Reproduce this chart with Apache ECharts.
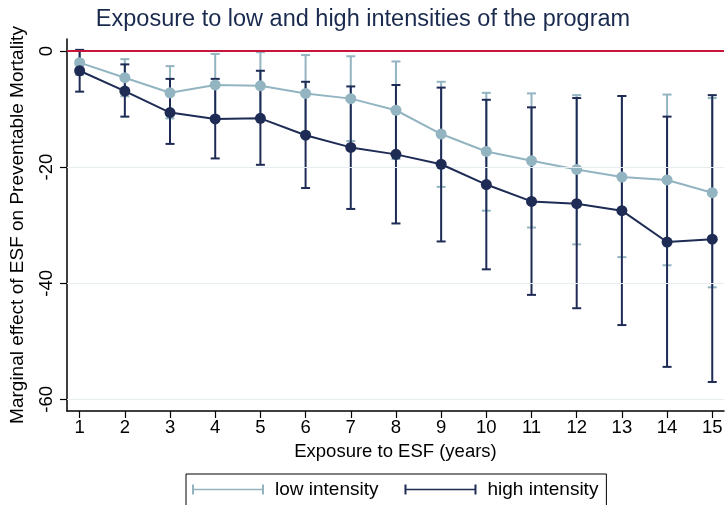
<!DOCTYPE html>
<html>
<head>
<meta charset="utf-8">
<script src="https://cdn.jsdelivr.net/npm/echarts@6/dist/echarts.min.js"></script>
<style>
html,body{margin:0;padding:0;background:#fff;}
#chart{width:726px;height:505px;}
</style>
</head>
<body>
<div id="chart"></div>
<script>
// ---- data ----
const years = [1,2,3,4,5,6,7,8,9,10,11,12,13,14,15];
const lowMean  = [-2.0,-4.6,-7.2,-5.85,-6.0,-7.3,-8.2,-10.2,-14.3,-17.3,-18.9,-20.4,-21.7,-22.2,-24.4];
const lowUpper = [0.1,-1.4,-2.6,-0.5,-0.2,-0.7,-0.9,-1.8,-5.3,-7.2,-7.3,-7.6,-7.75,-7.5,-8.1];
const lowLower = [-4.1,-7.8,-11.6,-11.2,-11.8,-13.9,-15.5,-18.6,-23.4,-27.5,-30.4,-33.3,-35.5,-36.9,-40.7];
const highMean  = [-3.4,-6.9,-10.6,-11.7,-11.6,-14.5,-16.6,-17.8,-19.5,-23.0,-25.9,-26.3,-27.5,-32.9,-32.4];
const highUpper = [0.2,-2.3,-4.8,-4.8,-3.4,-5.3,-6.1,-5.85,-6.3,-8.4,-9.7,-8.1,-7.75,-11.3,-7.6];
const highLower = [-7.0,-11.3,-16.0,-18.5,-19.6,-23.6,-27.2,-29.7,-32.8,-37.6,-42.0,-44.3,-47.2,-54.4,-57.0];
const yTicks = [0,-20,-40,-60];
const gridValues = [-20,-40,-60];
const seriesNames = ['low intensity','high intensity'];
const titleText = 'Exposure to low and high intensities of the program';
const xTitle = 'Exposure to ESF (years)';
const yTitle = 'Marginal effect of ESF on Preventable Mortality';

const LIGHT = '#93b4c1';
const DARK = '#1e2b55';
const FONT = 'Liberation Sans, Arial, sans-serif';

function errRender(color){
  return function(params, api){
    const x = api.value(0), lo = api.value(1), hi = api.value(2);
    const a = api.coord([x, lo]), b = api.coord([x, hi]);
    const w = 4.5;
    const st = {stroke: color, lineWidth: 2};
    return {type:'group', children:[
      {type:'line', shape:{x1:a[0],y1:a[1],x2:b[0],y2:b[1]}, style:st},
      {type:'line', shape:{x1:a[0]-w,y1:a[1],x2:a[0]+w,y2:a[1]}, style:st},
      {type:'line', shape:{x1:b[0]-w,y1:b[1],x2:b[0]+w,y2:b[1]}, style:st}
    ]};
  };
}

const capIcon = 'path://M0,0L2,0L2,10L0,10Z M0,4.2L72,4.2L72,5.8L0,5.8Z M70,0L72,0L72,10L70,10Z';

const chart = echarts.init(document.getElementById('chart'), null, {renderer:'canvas'});
chart.setOption({
  animation:false,
  backgroundColor:'#ffffff',
  title:{
    text:titleText, left:'center', top:8, padding:0,
    textStyle:{fontFamily:FONT, fontSize:23.5, fontWeight:'normal', color:'#1a2a4f'}
  },
  legend:{
    left:186, top:474, width:419,
    padding:[6,8,10,6],
    borderColor:'#000', borderWidth:1,
    itemWidth:72, itemHeight:10, itemGap:26,
    textStyle:{fontFamily:FONT, fontSize:19, color:'#000', padding:[0,0,0,6]},
    data:[
      {name:seriesNames[0], icon:capIcon, itemStyle:{color:LIGHT, borderWidth:0}},
      {name:seriesNames[1], icon:capIcon, itemStyle:{color:DARK, borderWidth:0}}
    ]
  },
  grid:{left:67, right:2, top:39, bottom:94},
  xAxis:{
    type:'value', min:0.72, max:15.26,
    name:xTitle, nameLocation:'middle', nameGap:31,
    nameTextStyle:{fontFamily:FONT, fontSize:18.5, color:'#000'},
    axisLine:{onZero:false, lineStyle:{color:'#000', width:1.5}},
    axisTick:{show:true, length:7, lineStyle:{color:'#000', width:1.2}, customValues:years},
    axisLabel:{fontFamily:FONT, fontSize:18.5, color:'#000', margin:7, customValues:years},
    splitLine:{show:false}
  },
  yAxis:{
    type:'value', min:-62, max:2.07,
    name:yTitle, nameLocation:'middle', nameGap:40, nameRotate:90,
    nameTextStyle:{fontFamily:FONT, fontSize:19, color:'#000'},
    axisLine:{show:true, onZero:false, lineStyle:{color:'#000', width:1.5}},
    axisTick:{show:true, length:7, lineStyle:{color:'#000', width:1.2}, customValues:yTicks},
    axisLabel:{fontFamily:FONT, fontSize:18.5, color:'#000', rotate:90, margin:11, customValues:yTicks},
    splitLine:{show:false}
  },
  series:[
    {
      name:seriesNames[0], type:'custom', z:2,
      renderItem:errRender(LIGHT), itemStyle:{color:LIGHT},
      encode:{x:0, y:[1,2]},
      data:years.map((y,i)=>[y, lowLower[i], lowUpper[i]]),
      markLine:{
        silent:true, symbol:'none', label:{show:false},
        data:[
          ...gridValues.map(v=>({yAxis:v, lineStyle:{color:'#e6edf0', width:1.2, type:'solid'}})),
          {yAxis:0, lineStyle:{color:'#c8153b', width:2, type:'solid'}}
        ]
      }
    },
    {
      name:seriesNames[1], type:'custom', z:3,
      renderItem:errRender(DARK), itemStyle:{color:DARK},
      encode:{x:0, y:[1,2]},
      data:years.map((y,i)=>[y, highLower[i], highUpper[i]])
    },
    {
      name:'low line', type:'line', z:4,
      data:years.map((y,i)=>[y, lowMean[i]]),
      symbol:'circle', symbolSize:11,
      itemStyle:{color:LIGHT}, lineStyle:{color:LIGHT, width:2}
    },
    {
      name:'high line', type:'line', z:5,
      data:years.map((y,i)=>[y, highMean[i]]),
      symbol:'circle', symbolSize:11,
      itemStyle:{color:DARK}, lineStyle:{color:DARK, width:2}
    }
  ]
});
</script>
</body>
</html>
